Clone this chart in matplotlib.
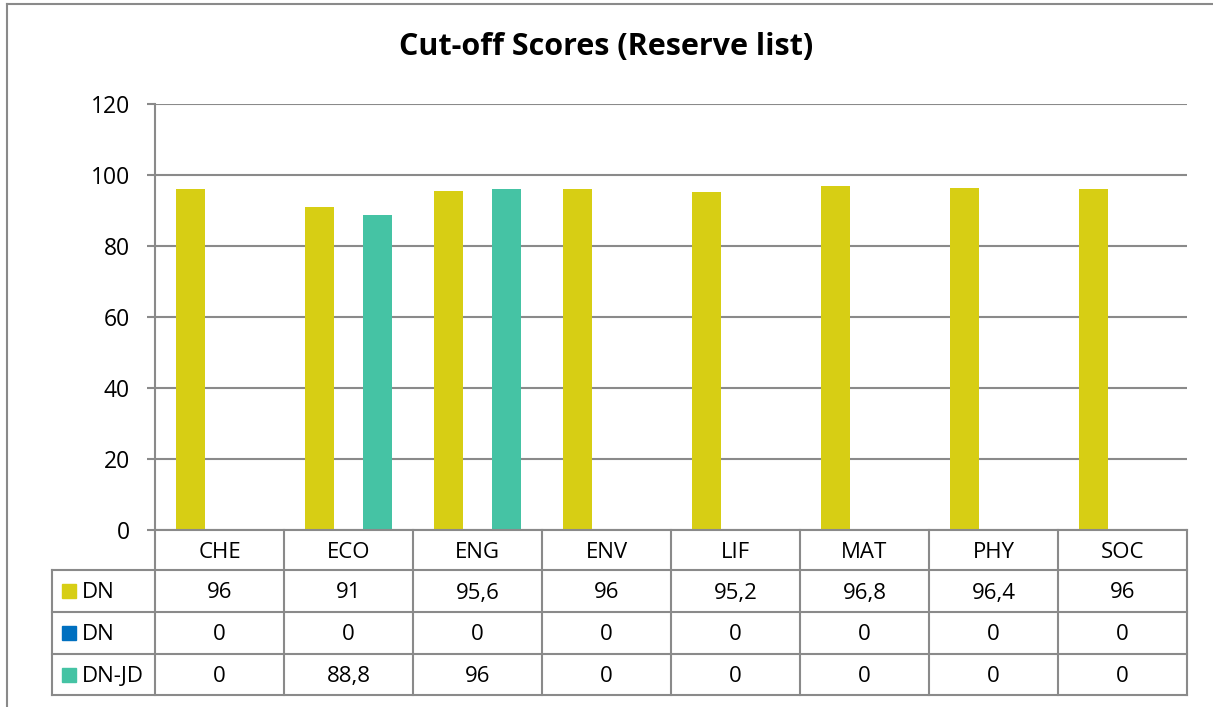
import matplotlib
matplotlib.use("Agg")
import matplotlib.pyplot as plt
from matplotlib.lines import Line2D
from matplotlib.patches import Rectangle
from matplotlib.transforms import blended_transform_factory

plt.rcParams['font.family'] = ['Open Sans', 'DejaVu Sans']

categories = ["CHE", "ECO", "ENG", "ENV", "LIF", "MAT", "PHY", "SOC"]
series_names = ["DN", "DN", "DN-JD"]
dn = [96, 91, 95.6, 96, 95.2, 96.8, 96.4, 96]
dn2 = [0, 0, 0, 0, 0, 0, 0, 0]
dn_jd = [0, 88.8, 96, 0, 0, 0, 0, 0]
series = [dn, dn2, dn_jd]
colors = ["#D7CE14", "#0070C0", "#45C3A4"]
yticks = [0, 20, 40, 60, 80, 100, 120]

W, H = 1213, 707
fig = plt.figure(figsize=(W / 100, H / 100), dpi=100)
grid_c = "#8a8a8a"

def fx(px):
    return px / W

def fy(py):
    return 1 - py / H

# plot area in pixels
left, right, top, bottom = 155, 1187, 104, 530
ax = fig.add_axes([fx(left), fy(bottom), fx(right - left), (bottom - top) / H])

n = len(categories)
x = list(range(n))
bw = 0.225
offs = [-0.222, 0.0, 0.222]
for s, c, o in zip(series, colors, offs):
    ax.bar([i + o for i in x], s, width=bw, color=c, zorder=3)

ax.set_xlim(-0.5, n - 0.5)
ax.set_ylim(0, 120)
ax.set_yticks(yticks)
ax.set_xticks([])
ax.yaxis.grid(True, color=grid_c, lw=1.5, zorder=0)
for sp in ["top", "right", "bottom"]:
    ax.spines[sp].set_visible(False)
ax.spines["left"].set_color(grid_c)
ax.spines["left"].set_linewidth(1.5)
ax.tick_params(axis="y", length=6, width=1.5, color=grid_c, labelsize=16.5, pad=12)

fig.text(0.5, fy(47), "Cut-off Scores (Reserve list)", ha="center", va="center",
         fontsize=22, fontweight="bold")

# data table under the plot
tr = blended_transform_factory(ax.transData, fig.transFigure)
rows_px = [530, 570, 612, 654, 695]
lab_left = -0.5 - (155 - 52) / ((right - left) / n)

def hline(x0, x1, ypx):
    fig.add_artist(Line2D([x0, x1], [fy(ypx), fy(ypx)], transform=tr, color=grid_c, lw=1.5))

def vline(xd, y0px, y1px):
    fig.add_artist(Line2D([xd, xd], [fy(y0px), fy(y1px)], transform=tr, color=grid_c, lw=1.5))

hline(-0.5, n - 0.5, rows_px[0])
for ypx in rows_px[1:]:
    hline(lab_left, n - 0.5, ypx)
for i in range(n + 1):
    vline(i - 0.5, rows_px[0], rows_px[-1])
vline(lab_left, rows_px[1], rows_px[-1])

tsize = 16
for i, cat in enumerate(categories):
    fig.text(i, fy((rows_px[0] + rows_px[1]) / 2 + 2), cat, transform=tr, ha="center",
             va="center", fontsize=tsize)

def fmt(v):
    return ("%g" % v).replace(".", ",")

for r, (s, name, c) in enumerate(zip(series, series_names, colors)):
    ymid = (rows_px[r + 1] + rows_px[r + 2]) / 2
    yc = fy(ymid + 2)
    for i, v in enumerate(s):
        fig.text(i, yc, fmt(v), transform=tr, ha="center", va="center", fontsize=tsize)
    fig.add_artist(Rectangle((fx(62), fy(ymid + 7)), 14 / W, 14 / H,
                             transform=fig.transFigure, color=c))
    fig.text(fx(82), yc, name, ha="left", va="center", fontsize=tsize)

# outer chart border
fig.add_artist(Line2D([fx(7), fx(7)], [fy(4), 0], color=grid_c, lw=1.5))
fig.add_artist(Line2D([fx(7), 1], [fy(4), fy(4)], color=grid_c, lw=1.5))

fig.savefig("out.png", dpi=100)
